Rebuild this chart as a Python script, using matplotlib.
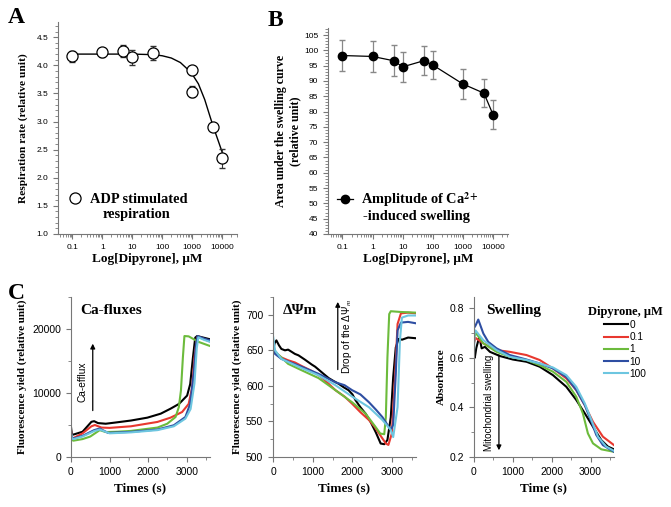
import matplotlib
matplotlib.use("Agg")
import matplotlib.pyplot as plt
from matplotlib.ticker import AutoMinorLocator, LogLocator, MultipleLocator, NullFormatter

plt.rcParams["mathtext.fontset"] = "stix"

SERIF = "Liberation Serif"
SANS = "Liberation Sans"
AXC = "#777777"

# ---- panel A: respiration ----
resp_conc = [0.1, 1, 5, 10, 50, 1000, 1000, 5000, 10000]
resp_rate = [4.16, 4.23, 4.26, 4.14, 4.22, 3.91, 3.53, 2.90, 2.35]
resp_err = [0.10, 0.08, 0.11, 0.13, 0.12, 0.08, 0.10, 0.05, 0.17]
fit_conc = [0.1, 1, 10, 50, 100, 200, 400, 700, 1000, 1600, 2600, 3900, 5000, 7300, 10000]
fit_rate = [4.20, 4.20, 4.20, 4.19, 4.17, 4.13, 4.05, 3.93, 3.84, 3.67, 3.39, 3.09, 2.91, 2.66, 2.45]

# ---- panel B: swelling area ----
swell_conc = [0.1, 1, 5, 10, 50, 100, 1000, 5000, 10000]
swell_area = [98.3, 98.0, 96.6, 94.6, 96.6, 95.2, 89.0, 86.0, 79.0]
swell_err = [5.0, 5.0, 5.0, 4.8, 4.8, 4.5, 4.8, 4.6, 4.8]

conc_ticks = [0.1, 1, 10, 100, 1000, 10000]
conc_labels = ["0.1", "1", "10", "100", "1000", "10000"]

# ---- panel C ----
doses = ["0", "0.1", "1", "10", "100"]
colors = ["#000000", "#e8382f", "#6cbb3c", "#2e4ea2", "#6dc6e0"]

ca_t = [
    [0, 20, 60, 300, 530, 600, 700, 900, 1130, 1555, 1980, 2325, 2580, 2800, 3010, 3090, 3160, 3220, 3270, 3400, 3600],
    [0, 20, 60, 300, 530, 620, 790, 1000, 1555, 2240, 2580, 2880, 3050, 3140, 3200, 3265, 3310, 3450, 3600],
    [0, 20, 60, 300, 500, 745, 900, 1200, 1555, 2240, 2495, 2710, 2795, 2850, 2900, 2940, 3050, 3300, 3600],
    [0, 20, 60, 300, 600, 745, 960, 1555, 2240, 2665, 2965, 3090, 3180, 3240, 3280, 3450, 3600],
    [0, 20, 60, 300, 600, 745, 1000, 1555, 2240, 2665, 2965, 3100, 3200, 3260, 3300, 3450, 3600],
]
ca_v = [
    [4700, 3600, 3500, 3950, 5500, 5600, 5300, 5200, 5370, 5700, 6150, 6770, 7550, 8300, 9600, 11400, 15500, 18650, 18900, 18700, 18400],
    [4200, 3100, 2950, 3700, 4800, 5000, 4600, 4550, 4800, 5480, 6150, 7030, 8300, 10900, 15550, 18650, 18800, 18400, 18050],
    [3800, 2700, 2550, 2800, 3200, 4200, 3900, 3950, 4080, 4600, 5200, 6250, 7800, 10400, 15550, 18900, 18850, 18000, 17350],
    [4000, 3000, 2900, 3300, 4200, 4450, 3770, 3930, 4290, 4960, 6250, 8320, 13000, 17600, 18900, 18500, 18240],
    [3800, 2900, 2800, 3200, 4050, 4300, 3700, 3850, 4200, 4800, 6000, 7500, 11500, 17000, 18700, 18300, 18000],
]

psi_t = [
    [0, 40, 85, 150, 210, 300, 380, 466, 550, 640, 720, 800, 900, 975, 1060, 1145, 1250, 1400, 1520, 1650, 1780, 1900, 2000, 2075, 2200, 2330, 2450, 2585, 2710, 2800, 2880, 2965, 3025, 3090, 3160, 3250, 3400, 3600],
    [0, 50, 210, 380, 550, 720, 975, 1200, 1400, 1570, 1800, 1990, 2200, 2415, 2550, 2670, 2780, 2840, 2905, 2990, 3075, 3135, 3220, 3400, 3600],
    [0, 50, 210, 380, 720, 1145, 1570, 1990, 2330, 2585, 2700, 2800, 2840, 2880, 2925, 2965, 3200, 3600],
    [0, 50, 210, 720, 1145, 1570, 1800, 1990, 2200, 2415, 2600, 2755, 2965, 3025, 3090, 3135, 3220, 3400, 3600],
    [0, 50, 210, 720, 1145, 1570, 1990, 2415, 2755, 2965, 3025, 3135, 3195, 3245, 3400, 3600],
]
psi_v = [
    [650, 660, 664, 657, 652, 650, 651, 648, 645, 643, 640, 637, 633, 630, 627, 623, 618, 611, 607, 603, 598, 594, 588, 580, 570, 561, 550, 535, 519, 518, 524, 556, 612, 654, 666, 665, 668, 667],
    [655, 648, 640, 636, 633, 628, 621, 613, 603, 594, 585, 575, 563, 552, 543, 533, 524, 519, 517, 533, 617, 687, 702, 703, 702],
    [658, 648, 640, 631, 622, 611, 594, 577, 561, 542, 533, 532, 556, 640, 701, 705, 704, 703],
    [652, 645, 638, 627, 617, 605, 601, 594, 588, 577, 566, 556, 538, 545, 617, 678, 689, 690, 688],
    [670, 650, 638, 625, 615, 601, 585, 570, 552, 538, 528, 570, 664, 696, 699, 699],
]

abs_t = [
    [0, 20, 60, 137, 197, 282, 410, 667, 1000, 1350, 1690, 2030, 2375, 2630, 2850, 3060, 3275, 3445, 3600],
    [0, 40, 240, 580, 920, 1350, 1690, 2030, 2375, 2630, 2850, 3060, 3315, 3600],
    [0, 50, 240, 580, 920, 1350, 1690, 2030, 2375, 2630, 2800, 2930, 3060, 3275, 3600],
    [0, 40, 110, 240, 367, 580, 920, 1350, 1690, 2030, 2375, 2630, 2850, 3020, 3145, 3315, 3600],
    [0, 15, 40, 240, 580, 920, 1350, 1690, 2030, 2375, 2630, 2850, 3020, 3190, 3400, 3600],
]
abs_v = [
    [0.62, 0.60, 0.64, 0.685, 0.638, 0.644, 0.624, 0.607, 0.593, 0.584, 0.564, 0.530, 0.483, 0.430, 0.376, 0.322, 0.268, 0.242, 0.231],
    [0.66, 0.68, 0.658, 0.631, 0.624, 0.611, 0.591, 0.557, 0.517, 0.470, 0.409, 0.342, 0.282, 0.248],
    [0.68, 0.70, 0.658, 0.624, 0.604, 0.591, 0.570, 0.544, 0.503, 0.443, 0.376, 0.295, 0.255, 0.231, 0.221],
    [0.72, 0.73, 0.754, 0.698, 0.664, 0.638, 0.611, 0.593, 0.577, 0.557, 0.523, 0.470, 0.409, 0.342, 0.289, 0.248, 0.221],
    [0.62, 0.70, 0.71, 0.671, 0.631, 0.604, 0.591, 0.577, 0.561, 0.530, 0.483, 0.416, 0.349, 0.282, 0.242, 0.225],
]


def style_axes(ax, tick_size):
    for side in ["top", "right"]:
        ax.spines[side].set_visible(False)
    for side in ["left", "bottom"]:
        ax.spines[side].set_color(AXC)
        ax.spines[side].set_linewidth(0.8)
    ax.tick_params(which="both", direction="out", color=AXC, labelsize=tick_size)
    ax.tick_params(which="major", length=3.5)
    ax.tick_params(which="minor", length=2)
    for lab in ax.get_xticklabels() + ax.get_yticklabels():
        lab.set_fontfamily(SANS)


def log_conc_axis(ax):
    ax.set_xscale("log")
    ax.set_xlim(0.033, 31000)
    ax.set_xticks(conc_ticks)
    ax.set_xticklabels(conc_labels)
    ax.xaxis.set_minor_locator(LogLocator(base=10, subs=range(2, 10), numticks=20))
    ax.xaxis.set_minor_formatter(NullFormatter())
    ax.set_xlabel("Log[Dipyrone], \u03bcM", family=SERIF, weight="bold", fontsize=9.5, labelpad=2)


fig = plt.figure(figsize=(6.71, 5.07), dpi=100)

# A
axA = fig.add_axes([0.0864, 0.5385, 0.2668, 0.418])
axA.plot(fit_conc, fit_rate, color="black", lw=1.0)
axA.errorbar(resp_conc, resp_rate, yerr=resp_err, fmt="none", ecolor="#333333",
             elinewidth=0.8, capsize=2.5)
axA.plot(resp_conc, resp_rate, "o", mfc="white", mec="black", ms=8, mew=0.9,
         label="ADP stimulated")
axA.set_ylim(1.0, 4.77)
axA.set_yticks([1.0, 1.5, 2.0, 2.5, 3.0, 3.5, 4.0, 4.5])
axA.yaxis.set_minor_locator(AutoMinorLocator(5))
log_conc_axis(axA)
axA.set_ylabel("Respiration rate (relative unit)", family=SERIF, weight="bold", fontsize=8.2, labelpad=6)
style_axes(axA, 6)
axA.legend(loc="center left", bbox_to_anchor=(0.055, 0.165), frameon=False, handlelength=1.0,
           handletextpad=0.55, borderpad=0, borderaxespad=0,
           prop={"family": SERIF, "weight": "bold", "size": 10.4})
axA.text(0.44, 0.09, "respiration", transform=axA.transAxes, ha="center", va="center",
         family=SERIF, weight="bold", fontsize=10.4)

# B
axB = fig.add_axes([0.4888, 0.5385, 0.268, 0.4063])
axB.errorbar(swell_conc, swell_area, yerr=swell_err, fmt="-o", color="black", mfc="black",
             ms=6, lw=0.9, ecolor="#888888", elinewidth=0.9, capsize=2.5)
axB.plot([], [], "-o", color="black", ms=6, lw=0.9, label="Amplitude of Ca$^{\\mathbf{2+}}$")
axB.set_ylim(40, 107.3)
axB.set_yticks(range(40, 106, 5))
axB.yaxis.set_minor_locator(AutoMinorLocator(5))
log_conc_axis(axB)
axB.set_ylabel("Area under the swelling curve\n(relative unit)", family=SERIF, weight="bold",
               fontsize=8.6, labelpad=2, linespacing=1.25)
style_axes(axB, 6)
axB.legend(loc="center left", bbox_to_anchor=(0.05, 0.165), frameon=False, handlelength=1.1,
           handletextpad=0.55, borderpad=0, borderaxespad=0,
           prop={"family": SERIF, "weight": "bold", "size": 10.4})
axB.text(0.494, 0.087, "-induced swelling", transform=axB.transAxes, ha="center", va="center",
         family=SERIF, weight="bold", fontsize=10.4)

# C panels
c_boxes = [[0.1058, 0.0986, 0.207, 0.3156],
           [0.4069, 0.0986, 0.2131, 0.3156],
           [0.7064, 0.0986, 0.2086, 0.3156]]
c_times = [ca_t, psi_t, abs_t]
c_vals = [ca_v, psi_v, abs_v]
axes_c = []
for box, ts, vs in zip(c_boxes, c_times, c_vals):
    ax = fig.add_axes(box)
    for t, v, col, d in zip(ts, vs, colors, doses):
        ax.plot(t, v, color=col, lw=1.5, label=d)
    ax.set_xlim(0, 3600)
    ax.set_xticks([0, 1000, 2000, 3000])
    ax.xaxis.set_minor_locator(MultipleLocator(500))
    axes_c.append(ax)

ax1, ax2, ax3 = axes_c
ax1.set_ylim(0, 25000)
ax1.set_yticks([0, 10000, 20000])
ax1.yaxis.set_minor_locator(MultipleLocator(5000))
ax2.set_ylim(500, 725)
ax2.set_yticks([500, 550, 600, 650, 700])
ax2.yaxis.set_minor_locator(MultipleLocator(25))
ax3.set_ylim(0.2, 0.845)
ax3.set_yticks([0.2, 0.4, 0.6, 0.8])
ax3.yaxis.set_minor_locator(MultipleLocator(0.1))

for ax in axes_c:
    style_axes(ax, 7.5)

lab = dict(family=SERIF, weight="bold", fontsize=8.0)
ax1.set_ylabel("Fluorescence yield (relative unit)", labelpad=4, **lab)
ax2.set_ylabel("Fluorescence yield (relative unit)", labelpad=3, **lab)
ax3.set_ylabel("Absorbance", labelpad=3, **lab)
ax1.set_xlabel("Times (s)", family=SERIF, weight="bold", fontsize=9.5, labelpad=4)
ax2.set_xlabel("Times (s)", family=SERIF, weight="bold", fontsize=9.5, labelpad=4)
ax3.set_xlabel("Time (s)", family=SERIF, weight="bold", fontsize=9.5, labelpad=4)

ttl = dict(family=SERIF, weight="bold", fontsize=11, va="center", ha="left")
ax1.text(0.07, 0.915, "Ca-fluxes", transform=ax1.transAxes, **ttl)
ax2.text(0.07, 0.915, "\u0394\u03a8m", transform=ax2.transAxes, **ttl)
ax3.text(0.085, 0.915, "Swelling", transform=ax3.transAxes, **ttl)

arr = dict(arrowstyle="-|>", color="black", lw=0.9, mutation_scale=7)
ax1.annotate("", xy=(564, 18140), xytext=(564, 6820), arrowprops=arr)
ax1.text(308, 11800, "Ca-efflux", rotation=90, ha="center", va="center", family=SANS, fontsize=7.3)
ax2.annotate("", xy=(1630, 722), xytext=(1630, 619), arrowprops=arr)
ax2.text(1860, 670, "Drop of the \u0394\u03a8$_m$", rotation=90, ha="center", va="center",
         family=SANS, fontsize=7.3)
ax3.annotate("", xy=(641, 0.216), xytext=(641, 0.623), arrowprops=arr)
ax3.text(385, 0.417, "Mitochondrial swelling", rotation=90, ha="center", va="center",
         family=SANS, fontsize=7.1)

leg = ax3.legend(title="Dipyrone, \u03bcM", loc="upper left", bbox_to_anchor=(0.814, 0.945),
                 frameon=False, handlelength=2.3, handletextpad=0.15, labelspacing=0.22,
                 borderpad=0, borderaxespad=0, prop={"family": SANS, "size": 7.3})
leg.get_title().set_fontfamily(SERIF)
leg.get_title().set_fontweight("bold")
leg.get_title().set_fontsize(9.0)
leg._legend_box.align = "center"

# panel letters
for x, y, s in [(0.012, 0.966, "A"), (0.399, 0.96, "B"), (0.012, 0.422, "C")]:
    fig.text(x, y, s, family=SERIF, weight="bold", fontsize=17, va="center", ha="left")

fig.savefig("out.png", dpi=100)
